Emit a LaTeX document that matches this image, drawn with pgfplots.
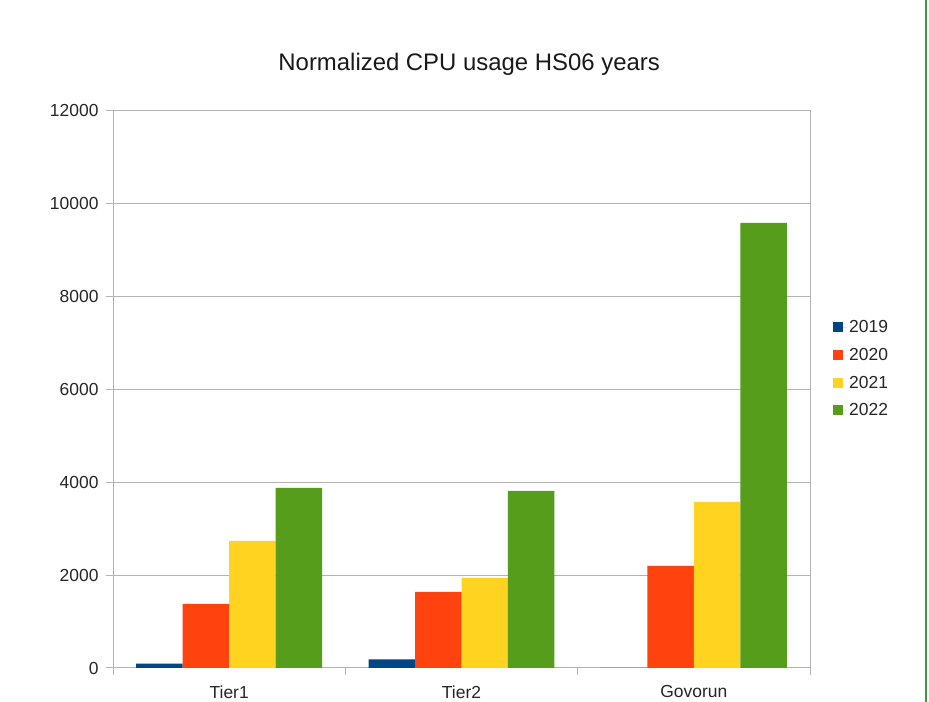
\documentclass[border=0pt]{standalone}
\usepackage{pgfplots}
\pgfplotsset{compat=1.18}
\usepackage{fontspec}
\setmainfont{Liberation Sans}
\definecolor{c19}{HTML}{004586}
\definecolor{c20}{HTML}{FF420E}
\definecolor{c21}{HTML}{FFD320}
\definecolor{c22}{HTML}{579D1C}
\definecolor{gridgray}{HTML}{B3B3B3}
\definecolor{edgegreen}{HTML}{3E9A3A}
\begin{document}
\begin{tikzpicture}
\path[use as bounding box, fill=white] (0bp,0bp) rectangle (929bp,702bp);
\draw[edgegreen, line width=2bp] (926bp,0bp) -- (926bp,702bp);
\begin{axis}[
  at={(113bp,34bp)}, anchor=south west,
  scale only axis, width=697bp, height=557bp,
  xmin=-0.5, xmax=2.5, ymin=0, ymax=12000,
  ytick={0,2000,...,12000},
  ytick pos=left, xtick pos=bottom,
  scaled y ticks=false,
  /pgf/number format/assume math mode=true,
  yticklabel style={/pgf/number format/1000 sep={}, font=\fontsize{17.5}{20}\selectfont, text=black!85, xshift=-4bp},
  xtick={-0.5,0.5,1.5,2.5}, xticklabels={},
  extra x ticks={0,1,2},
  extra x tick labels={Tier1,Tier2,Govorun},
  extra x tick style={major tick length=0pt, grid=none, xticklabel style={font=\fontsize{17.5}{20}\selectfont, text=black!85, yshift=-14bp}},
  tick align=outside, major tick length=7bp,
  tick style={gridgray, line width=1bp},
  axis line style={gridgray, line width=1bp},
  ymajorgrids, grid style={gridgray, line width=1bp},
  title={Normalized CPU usage HS06 years},
  title style={font=\fontsize{24}{28}\selectfont, text=black!90, at={(0.511,1)}, anchor=center, yshift=41bp},
  legend style={draw=none, fill=none, at={(1.033,0.537)}, anchor=west, font=\fontsize{17.5}{20}\selectfont, text=black!85, row sep=10bp, inner sep=0pt},
  legend cell align=left,
  legend image code/.code={\fill[#1] (0bp,-5bp) rectangle (10bp,5bp); \path (0bp,0bp) -- (14bp,0bp);},
]
\addplot[ybar, fill=c19, draw=none, bar width=0.2, bar shift=-0.3] coordinates {(0,95) (1,187) (2,0)};
\addplot[ybar, fill=c20, draw=none, bar width=0.2, bar shift=-0.1] coordinates {(0,1379) (1,1638) (2,2198)};
\addplot[ybar, fill=c21, draw=none, bar width=0.2, bar shift=0.1] coordinates {(0,2737) (1,1940) (2,3578)};
\addplot[ybar, fill=c22, draw=none, bar width=0.2, bar shift=0.3] coordinates {(0,3879) (1,3815) (2,9590)};
\legend{2019,2020,2021,2022}
\end{axis}
\end{tikzpicture}
\end{document}
